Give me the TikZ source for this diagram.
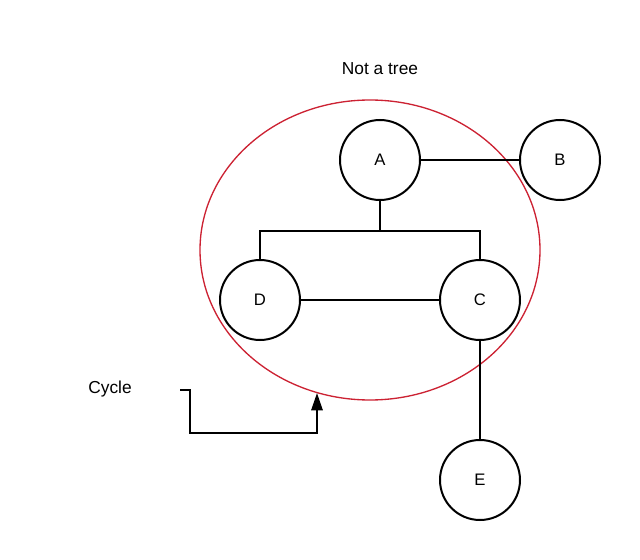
\documentclass[tikz,border=0pt]{standalone}
\usepackage{fontspec}
\setmainfont{Liberation Sans}
\usetikzlibrary{arrows.meta}
\definecolor{redline}{RGB}{204,34,51}
\begin{document}
\begin{tikzpicture}[x=0.75pt,y=-0.75pt,
  vert/.style={circle,draw,line width=1.5pt,minimum size=60pt,inner sep=0pt,font=\fontsize{12.5}{14}\selectfont},
  edge/.style={line width=1.5pt},
  lbl/.style={font=\fontsize{13}{15}\selectfont}]
\useasboundingbox (0,0) rectangle (640,560);
\draw[redline,line width=1pt] (370,250) ellipse [x radius=170, y radius=150];
\node[vert] (A) at (380,160) {A};
\node[vert] (B) at (560,160) {B};
\node[vert] (D) at (260,300) {D};
\node[vert] (C) at (480,300) {C};
\node[vert] (E) at (480,480) {E};
\node[lbl] (title) at (380,69) {Not a tree};
\node[lbl] (cyc) at (110,389) {Cycle};
\draw[edge] (A) -- (B);
\draw[edge] (A.south) -- ++(0,30) -| (D.north);
\draw[edge] (A.south) -- ++(0,30) -| (C.north);
\draw[edge] (D) -- (C);
\draw[edge] (C) -- (E);
\coordinate (s) at (180,390);
\coordinate (t) at (317,393);
\draw[line width=1.5pt,-{Triangle[length=13pt,width=8.5pt]}] (s) -- (190,390) |- (317,433) -- (t);
\end{tikzpicture}
\end{document}
